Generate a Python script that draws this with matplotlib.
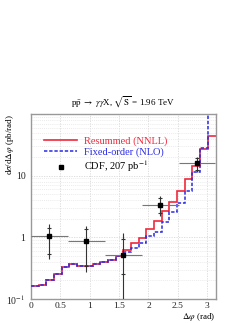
import numpy as np
import matplotlib.pyplot as plt
from matplotlib.ticker import FixedLocator, LogLocator, NullFormatter

plt.rcParams['font.family'] = ['Liberation Serif', 'DejaVu Serif']
plt.rcParams['mathtext.fontset'] = 'stix'

# 24 bins in delta phi from 0 to pi
edges = np.linspace(0, np.pi, 25)
resummed = [0.164, 0.171, 0.206, 0.258, 0.327, 0.376, 0.349, 0.349, 0.376, 0.401,
            0.437, 0.490, 0.621, 0.82, 0.96, 1.35, 1.85, 2.69, 3.77, 5.70,
            8.85, 14.6, 27.3, 44.0]
fixed_order = [0.164, 0.171, 0.206, 0.258, 0.327, 0.376, 0.349, 0.349, 0.376, 0.401,
               0.437, 0.490, 0.569, 0.661, 0.798, 1.04, 1.21, 1.76, 2.56, 3.59,
               5.70, 11.4, 28.1, 200.0]

# CDF data, 5 bins of width pi/5
cdf_x = [0.314, 0.942, 1.571, 2.199, 2.827]
cdf_xerr = [0.314, 0.314, 0.314, 0.314, 0.314]
cdf_y = [1.07, 0.88, 0.508, 3.37, 16.0]
cdf_hi = [1.67, 1.50, 1.16, 4.72, 20.0]   # total error
cdf_lo = [0.44, 0.27, 0.01, 2.23, 11.4]
stat_hi = [1.44, 1.39, 0.95, 4.3, 19.2]   # statistical error ticks
stat_lo = [0.54, 0.34, 0.25, 2.5, 12.4]

fig = plt.figure(figsize=(2.49, 3.23), dpi=100)
ax = fig.add_axes([0.1245, 0.0743, 0.7410, 0.5728])

ax.stairs(fixed_order, edges, baseline=None, color='#2a2ae6', lw=1.1,
          ls=(0, (2.2, 1.2)), label='Fixed-order (NLO)', zorder=3)
ax.stairs(resummed, edges, baseline=None, color='#f0283c', lw=1.2,
          label='Resummed (NNLL)', zorder=2)

y = np.array(cdf_y)
ax.errorbar(cdf_x, cdf_y, xerr=cdf_xerr, fmt='none', ecolor='#777777',
            elinewidth=0.8, zorder=4)
ax.errorbar(cdf_x, cdf_y, yerr=[y - np.array(cdf_lo), np.array(cdf_hi) - y],
            fmt='none', ecolor='#333333', elinewidth=0.8, zorder=4)
ax.plot(cdf_x, stat_hi, ls='none', marker='_', ms=3, mew=0.8, color='#333333', zorder=4)
ax.plot(cdf_x, stat_lo, ls='none', marker='_', ms=3, mew=0.8, color='#333333', zorder=4)
ax.plot(cdf_x, cdf_y, ls='none', marker='s', ms=2.6, color='black', zorder=5,
        label='CDF, 207 pb$^{-1}$')

ax.set_yscale('log')
ax.set_xlim(0, np.pi)
ax.set_ylim(0.1, 100)
ax.set_xticks([0, 0.5, 1, 1.5, 2, 2.5, 3])
ax.set_xticklabels(['0', '0.5', '1', '1.5', '2', '2.5', '3'])
ax.yaxis.set_major_locator(FixedLocator([0.1, 1, 10]))
ax.set_yticklabels(['10$^{-1}$', '1', '10'])
ax.yaxis.set_minor_locator(LogLocator(base=10, subs=np.arange(2, 10)))
ax.yaxis.set_minor_formatter(NullFormatter())
ax.tick_params(which='both', length=0, labelsize=7, pad=4, colors='#222222')
ax.tick_params(axis='x', pad=2, labelsize=6.8)

ax.grid(True, which='major', color='#d8d8d8', ls=(0, (1.5, 1.5)), lw=0.6)
ax.grid(True, which='minor', axis='y', color='#e4e4e4', ls=(0, (1.5, 1.5)), lw=0.5)
ax.set_axisbelow(True)
for s in ax.spines.values():
    s.set_color('#999999')
    s.set_linewidth(1.0)

ax.set_title(r'p$\bar{\rm p}$ $\rightarrow$ $\gamma\gamma$X, $\sqrt{\rm S}$ = 1.96 TeV',
             fontsize=6.5, pad=6)
fig.text(0.018, 0.648, r'd$\sigma$/d$\Delta\varphi$ (pb/rad)', fontsize=6.5,
         rotation=90, ha='left', va='top')
fig.text(0.865, 0.001, r'$\Delta\varphi$ (rad)', fontsize=6.5, ha='right', va='bottom')

handles, labels = ax.get_legend_handles_labels()
order = [1, 0, 2]
leg = ax.legend([handles[i] for i in order], [labels[i] for i in order],
                loc='upper left', bbox_to_anchor=(0.02, 0.93), frameon=False,
                fontsize=7.5, handlelength=3.2, handletextpad=0.6,
                labelspacing=0.15)
for t, c in zip(leg.get_texts(), ['#f0283c', '#2a2ae6', 'black']):
    t.set_color(c)

fig.savefig('out.png', dpi=100)
